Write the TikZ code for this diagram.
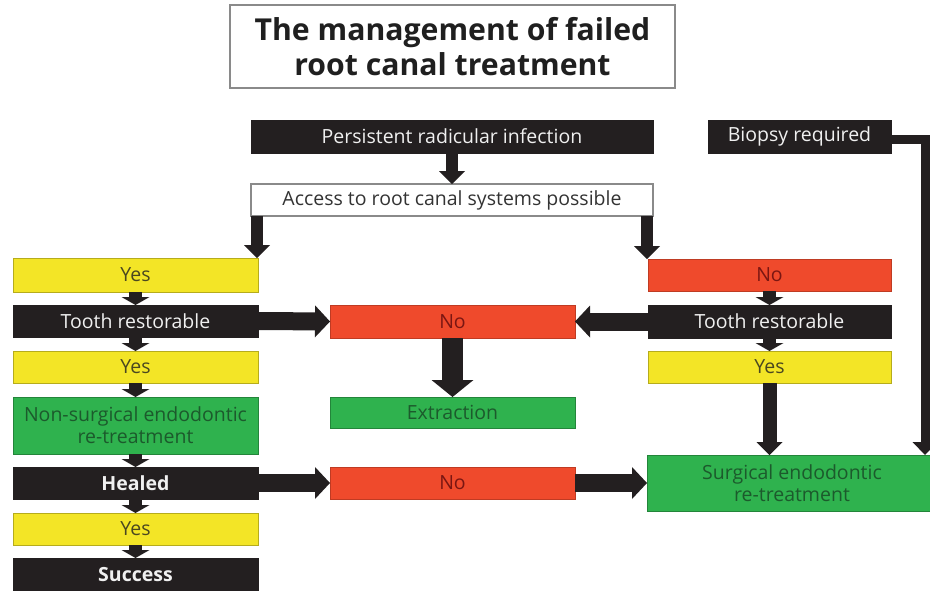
\documentclass[tikz,border=0pt]{standalone}
\usepackage{fontspec}
\setmainfont{Open Sans}
\usetikzlibrary{arrows.meta,calc}

\definecolor{boxblack}{HTML}{231F20}
\definecolor{boxyellow}{HTML}{F3E526}
\definecolor{boxred}{HTML}{EF4A2C}
\definecolor{boxgreen}{HTML}{2FB24E}
\definecolor{txtyellow}{HTML}{4A4720}
\definecolor{txtred}{HTML}{7A1612}
\definecolor{txtgreen}{HTML}{1C5A2C}
\definecolor{framegray}{HTML}{8A8A8A}

\tikzset{
  base/.style={anchor=north west, inner sep=0pt, outer sep=0pt, align=center,
    font=\fontsize{19.5}{22}\selectfont, line width=0.8pt},
  blackbox/.style={base, fill=boxblack, draw=boxblack, text=white!94!black},
  yellowbox/.style={base, fill=boxyellow, draw=boxyellow!75!black, text=txtyellow},
  redbox/.style={base, fill=boxred, draw=boxred!80!black, text=txtred},
  greenbox/.style={base, fill=boxgreen, draw=boxgreen!75!black, text=txtgreen},
  whitebox/.style={base, fill=white, draw=framegray, line width=1.2pt, text=black!80},
  boldtext/.style={font=\fontsize{19.5}{22}\selectfont\bfseries},
  % block arrows: shaft width, head width, head length
  smallarrow/.style={draw=boxblack, line width=13pt,
    -{Triangle[length=8pt,width=28pt,line width=0pt]}},
  midarrow/.style={draw=boxblack, line width=12pt,
    -{Triangle[length=13pt,width=26pt,line width=0pt]}},
  sidearrow/.style={draw=boxblack, line width=18pt,
    -{Triangle[length=15pt,width=32pt,line width=0pt]}},
  bigarrow/.style={draw=boxblack, line width=21pt,
    -{Triangle[length=17pt,width=42pt,line width=0pt]}},
  biopsyline/.style={draw=boxblack, line width=9pt,
    -{Triangle[length=13pt,width=25pt,line width=0pt]}},
}

\begin{document}
\begin{tikzpicture}[x=1pt, y=-1pt]
\useasboundingbox (0,0) rectangle (930,590);
\begin{scope}
\clip (0,0) rectangle (930,590);

% title
\node[whitebox, minimum width=445pt, minimum height=83pt,
  font=\fontsize{30.2}{35}\selectfont\bfseries, text=black!88] (title) at (230,5)
  {The management of failed\\root canal treatment};

% top row
\node[blackbox, minimum width=402pt, minimum height=33pt] (persist) at (251,120)
  {Persistent radicular infection};
\node[whitebox, minimum width=402pt, minimum height=32pt] (access) at (251,184)
  {Access to root canal systems possible};
\node[blackbox, minimum width=183pt, minimum height=33pt] (biopsy) at (708,120)
  {Biopsy required};

% left column
\node[yellowbox, minimum width=245pt, minimum height=34pt] (yes1) at (13,258) {Yes};
\node[blackbox, minimum width=245pt, minimum height=32pt] (toothL) at (13,305) {Tooth restorable};
\node[yellowbox, minimum width=245pt, minimum height=32pt] (yes2) at (13,351) {Yes};
\node[greenbox, minimum width=245pt, minimum height=57pt] (nonsurg) at (13,397)
  {Non-surgical endodontic\\re-treatment};
\node[blackbox, boldtext, minimum width=245pt, minimum height=32pt] (healed) at (13,467) {Healed};
\node[yellowbox, minimum width=245pt, minimum height=32pt] (yes3) at (13,513) {Yes};
\node[blackbox, boldtext, minimum width=245pt, minimum height=34pt] (success) at (13,558) {Success};

% middle column
\node[redbox, minimum width=245pt, minimum height=33pt] (noM) at (330,305) {No};
\node[greenbox, minimum width=245pt, minimum height=31pt] (extr) at (330,397) {Extraction};
\node[redbox, minimum width=245pt, minimum height=32pt] (noL) at (330,467) {No};

% right column
\node[redbox, minimum width=243pt, minimum height=32pt] (noR) at (648,259) {No};
\node[blackbox, minimum width=243pt, minimum height=33pt] (toothR) at (648,305) {Tooth restorable};
\node[yellowbox, minimum width=243pt, minimum height=32pt] (yesR) at (648,351) {Yes};
\node[greenbox, minimum width=290pt, minimum height=56pt] (surg) at (647,455)
  {Surgical endodontic\\re-treatment};

% connectors
\draw[midarrow] (persist.south) -- (access.north);
\draw[midarrow] ([xshift=6pt]access.south west) -- ([xshift=6pt]access.south west |- yes1.north);
\draw[midarrow] ([xshift=-6pt]access.south east) -- ([xshift=-6pt]access.south east |- noR.north);

\draw[smallarrow] (yes1.south) -- (toothL.north);
\draw[smallarrow] (toothL.south) -- (yes2.north);
\draw[smallarrow] (yes2.south) -- (nonsurg.north);
\draw[smallarrow] (nonsurg.south) -- (healed.north);
\draw[smallarrow] (healed.south) -- (yes3.north);
\draw[smallarrow] (yes3.south) -- (success.north);
\draw[smallarrow] (noR.south) -- (toothR.north);
\draw[smallarrow] (toothR.south) -- (yesR.north);

\draw[sidearrow] (toothL.east) -- (noM.west);
\draw[sidearrow] (toothR.west) -- (noM.east);
\draw[sidearrow] (healed.east) -- (noL.west);
\draw[sidearrow] (noL.east) -- (noL.east -| surg.west);
\draw[bigarrow] (noM.south) -- (extr.north);
\draw[midarrow, line width=14pt] (yesR.south) -- (yesR.south |- surg.north);

\draw[biopsyline] ([yshift=-3pt]biopsy.east) -| ([xshift=-12pt]surg.north east);
\end{scope}
\end{tikzpicture}
\end{document}
